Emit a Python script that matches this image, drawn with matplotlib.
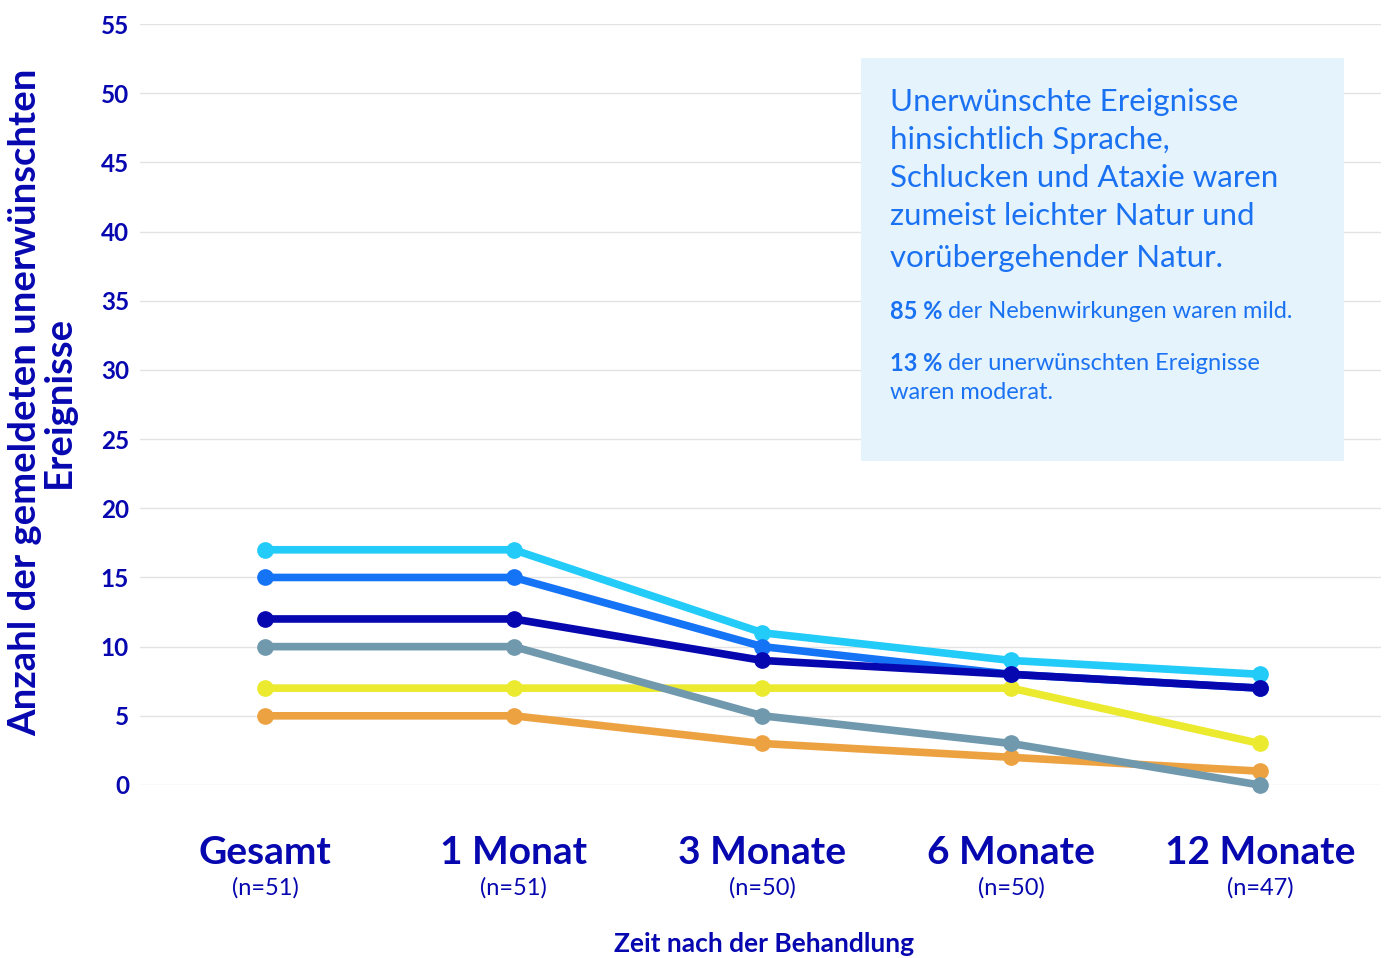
import matplotlib
matplotlib.use("Agg")
import matplotlib.pyplot as plt
from matplotlib.patches import Rectangle

# data
categories = ["Gesamt", "1 Monat", "3 Monate", "6 Monate", "12 Monate"]
sample_sizes = ["(n=51)", "(n=51)", "(n=50)", "(n=50)", "(n=47)"]
yellow_vals = [7, 7, 7, 7, 3]
orange_vals = [5, 5, 3, 2, 1]
grey_vals = [10, 10, 5, 3, 0]
cyan_vals = [17, 17, 11, 9, 8]
blue_vals = [15, 15, 10, 8, 7]
navy_vals = [12, 12, 9, 8, 7]
y_ticks = list(range(0, 56, 5))

NAVY = "#0707b0"
TXT_BLUE = "#1a72f2"

plt.rcParams['font.family'] = ['Lato', 'DejaVu Sans']

fig = plt.figure(figsize=(13.86, 9.58), dpi=100)
W, H = 1386, 958
ax = fig.add_axes([140 / W, 1 - 785 / H, (1381 - 140) / W, (785 - 24) / H])

x = list(range(len(categories)))
series = [
    (yellow_vals, "#ebea2f"),
    (orange_vals, "#eda241"),
    (grey_vals, "#7099ae"),
    (cyan_vals, "#22cbf8"),
    (blue_vals, "#1573f5"),
    (navy_vals, NAVY),
]
for vals, col in series:
    ax.plot(x, vals, color=col, lw=5.5, marker='o', ms=11,
            solid_capstyle='round', clip_on=False, zorder=3)

ax.set_xlim(-0.503, 4.487)
ax.set_ylim(0, 55)
ax.set_yticks(y_ticks)
ax.set_yticklabels([str(t) for t in y_ticks], fontsize=17.5, fontweight='bold', color=NAVY)
ax.tick_params(axis='y', length=0, pad=8)
ax.set_xticks([])
ax.grid(axis='y', color='#e3e3e3', lw=1)
ax.set_axisbelow(True)
for s in ax.spines.values():
    s.set_visible(False)

# category labels
for i, (c, n) in enumerate(zip(categories, sample_sizes)):
    ax.text(i, -4.9, c, ha='center', va='center', fontsize=28, fontweight='bold',
            color=NAVY, clip_on=False)
    ax.text(i, -7.45, n, ha='center', va='center', fontsize=17,
            color=NAVY, clip_on=False)

fig.text(764 / W, 1 - 944 / H, "Zeit nach der Behandlung", ha='center', va='center',
         fontsize=19, fontweight='bold', color=NAVY)
fig.text(42 / W, 1 - 402 / H, "Anzahl der gemeldeten unerwünschten\nEreignisse",
         ha='center', va='center', rotation=90, fontsize=27.5, fontweight='bold',
         color=NAVY, linespacing=1.0)

# info box
fig.patches.append(Rectangle((861 / W, 1 - 461 / H), (1344 - 861) / W, (461 - 58) / H,
                             transform=fig.transFigure, facecolor='#e5f3fd',
                             edgecolor='none', zorder=1))
box_lines = ["Unerwünschte Ereignisse", "hinsichtlich Sprache,",
             "Schlucken und Ataxie waren", "zumeist leichter Natur und",
             "vorübergehender Natur."]
box_y = [102, 140, 178, 216, 258]
for t, yy in zip(box_lines, box_y):
    fig.text(890 / W, 1 - yy / H, t, ha='left', va='center', fontsize=22.5,
             color=TXT_BLUE, zorder=2)

fig.canvas.draw()
renderer = fig.canvas.get_renderer()


def mixed(y, bold, rest):
    t1 = fig.text(890 / W, 1 - y / H, bold, ha='left', va='center', fontsize=17,
                  fontweight='bold', color=TXT_BLUE, zorder=2)
    bb = t1.get_window_extent(renderer)
    fig.text((bb.x1 + 6) / W, 1 - y / H, rest, ha='left', va='center', fontsize=17,
             color=TXT_BLUE, zorder=2)


mixed(311, "85 %", "der Nebenwirkungen waren mild.")
mixed(363, "13 %", "der unerwünschten Ereignisse")
fig.text(890 / W, 1 - 392 / H, "waren moderat.", ha='left', va='center', fontsize=17,
         color=TXT_BLUE, zorder=2)

fig.savefig("out.png", dpi=100)
